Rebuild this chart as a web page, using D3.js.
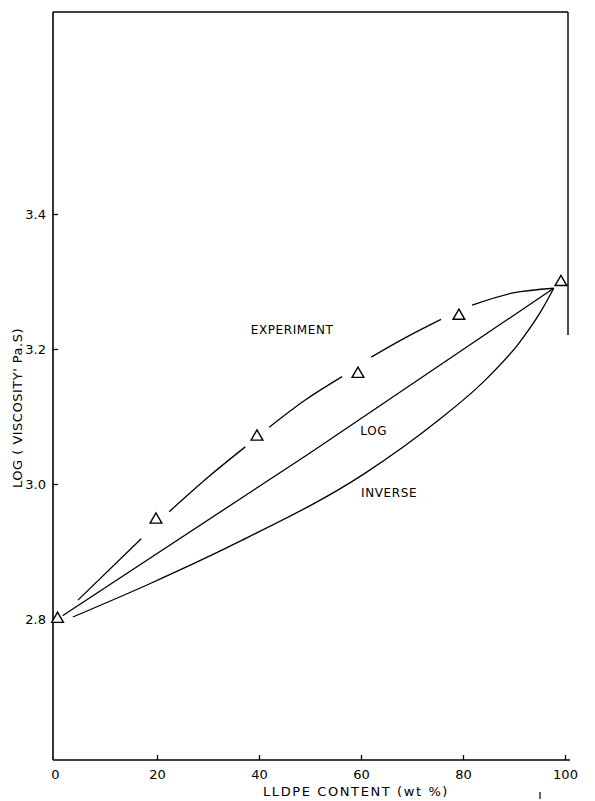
<!DOCTYPE html>
<html><head><meta charset="utf-8">
<script src="https://cdn.jsdelivr.net/npm/d3@7"></script>
<style>html,body{margin:0;padding:0;background:#fff}</style>
</head><body>
<svg id="chart" width="595" height="801"></svg>
<script>
// ---- data ----
const xTicks = [0, 20, 40, 60, 80, 100];
const xTickLabels = ["0", "20", "40", "60", "80", "100"];
const yTicks = [2.8, 3.0, 3.2, 3.4];
const yTickLabels = ["2.8", "3.0", "3.2", "3.4"];

// experimental points (triangles)
const expX = [0.5, 19.8, 39.6, 59.4, 79.2, 99.2];
const expY = [2.80, 2.947, 3.070, 3.163, 3.249, 3.299];

// hand-drawn experiment curve, broken into segments (gaps around markers/label)
const expSeg1 = [[4.5, 2.828], [16.9, 2.919]];
const expSeg2 = [[22.4, 2.959], [30.0, 3.010], [37.3, 3.055]];
const expSeg3 = [[42.0, 3.084], [49.0, 3.124], [56.3, 3.159]];
const expSeg4 = [[62.0, 3.188], [69.0, 3.218], [75.7, 3.244]];
const expSeg5 = [[81.8, 3.265], [89.8, 3.283], [97.8, 3.290]];

// log additivity rule
const logLine = [[1.5, 2.805], [50, 3.046], [97.8, 3.290]];
// inverse additivity rule
const invCurve = [[3.5, 2.803], [18.8, 2.853], [36.5, 2.916], [60.6, 3.015], [75.1, 3.094],
                  [84.1, 3.152], [90.8, 3.207], [95.3, 3.256], [97.8, 3.290]];

const curveLabels = ["EXPERIMENT", "LOG", "INVERSE"];
const curveLabelPos = [[46.5, 3.228], [62.5, 3.078], [65.5, 2.986]];

const xTitle = "LLDPE CONTENT (wt %)";
const yTitle = "LOG ( VISCOSITY' Pa.S)";

// ---- drawing ----
const svg = d3.select("#chart");
const font = "'DejaVu Sans', sans-serif";
const x = d3.scaleLinear().domain([0, 100]).range([55, 565]);
const y = d3.scaleLinear().domain([2.8, 3.4]).range([619, 214]);

const L = 53, R = 568, T = 12, B = 760;

// frame
const frame = svg.append("g").attr("stroke", "#000").attr("fill", "none");
frame.append("line").attr("x1", L).attr("y1", T).attr("x2", L).attr("y2", B).attr("stroke-width", 1.6);
frame.append("line").attr("x1", L).attr("y1", B).attr("x2", R + 2).attr("y2", B).attr("stroke-width", 1.6);
frame.append("line").attr("x1", L).attr("y1", T).attr("x2", R).attr("y2", T).attr("stroke-width", 1.4);
frame.append("line").attr("x1", R).attr("y1", T).attr("x2", R).attr("y2", 335).attr("stroke-width", 1.4);

// x axis
const xAxis = d3.axisBottom(x).tickValues(xTicks)
  .tickFormat((d, i) => xTickLabels[i]).tickSizeInner(-5).tickSizeOuter(0).tickPadding(10);
const gx = svg.append("g").attr("transform", `translate(0,${B})`).call(xAxis);
gx.select(".domain").remove();
gx.selectAll(".tick line").attr("stroke", "#000").attr("stroke-width", 1.3)
  .filter(d => d === 0).remove();
gx.selectAll(".tick text").attr("font-family", font).attr("font-size", 13).attr("fill", "#000");

// y axis
const yAxis = d3.axisLeft(y).tickValues(yTicks)
  .tickFormat((d, i) => yTickLabels[i]).tickSizeInner(-5).tickSizeOuter(0).tickPadding(7);
const gy = svg.append("g").attr("transform", `translate(${L},0)`).call(yAxis);
gy.select(".domain").remove();
gy.selectAll(".tick line").attr("stroke", "#000").attr("stroke-width", 1.3);
gy.selectAll(".tick text").attr("font-family", font).attr("font-size", 13).attr("fill", "#000");

// titles
svg.append("text").attr("x", 263).attr("y", 796).attr("font-family", font).attr("font-size", 13)
  .attr("letter-spacing", 1.6).attr("fill", "#000").text(xTitle);
svg.append("text").attr("transform", "translate(22,408) rotate(-90)").attr("text-anchor", "middle")
  .attr("font-family", font).attr("font-size", 13).attr("letter-spacing", 0.5).attr("fill", "#000").text(yTitle);
// small stray mark near bottom right
svg.append("line").attr("x1", 540).attr("y1", 792).attr("x2", 540).attr("y2", 799).attr("stroke", "#000").attr("stroke-width", 1.2);

// lines
const line = d3.line().x(d => x(d[0])).y(d => y(d[1])).curve(d3.curveMonotoneX);
const lines = svg.append("g").attr("fill", "none").attr("stroke", "#000").attr("stroke-width", 1.3);
[expSeg1, expSeg2, expSeg3, expSeg4, expSeg5].forEach(s => lines.append("path").attr("d", line(s)));
lines.append("path").attr("d", line(logLine));
lines.append("path").attr("d", line(invCurve));

// triangles
const tri = d3.symbol().type(d3.symbolTriangle).size(60);
svg.append("g").selectAll("path").data(expX.map((v, i) => [v, expY[i]])).join("path")
  .attr("d", tri).attr("transform", d => `translate(${x(d[0])},${y(d[1])})`)
  .attr("fill", "#fff").attr("stroke", "#000").attr("stroke-width", 1.4);

// curve labels
svg.append("g").selectAll("text").data(curveLabels).join("text")
  .attr("x", (d, i) => x(curveLabelPos[i][0])).attr("y", (d, i) => y(curveLabelPos[i][1]))
  .attr("text-anchor", "middle").attr("dominant-baseline", "middle")
  .attr("font-family", font).attr("font-size", 12).attr("letter-spacing", 0.6).attr("fill", "#000")
  .text(d => d);
</script>
</body></html>
